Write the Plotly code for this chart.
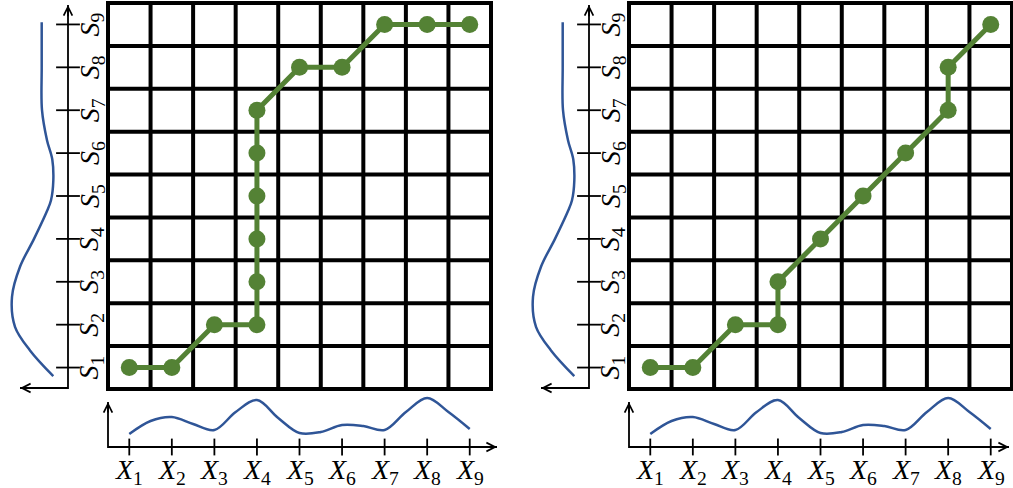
import plotly.graph_objects as go

# ---------------- data ----------------
N = 9
x_index = list(range(1, N + 1))
s_index = list(range(1, N + 1))
x_labels = [f"<i>X</i><sub>{i}</sub>" for i in x_index]
s_labels = [f"<i>S</i><sub>{i}</sub>" for i in s_index]

# warping path, left panel (X index, S index)
path_a_x = [1, 2, 3, 4, 4, 4, 4, 4, 4, 5, 6, 7, 8, 9]
path_a_s = [1, 1, 2, 2, 3, 4, 5, 6, 7, 8, 8, 9, 9, 9]
# warping path, right panel
path_b_x = [1, 2, 3, 4, 4, 5, 6, 7, 8, 8, 9]
path_b_s = [1, 1, 2, 2, 3, 4, 5, 6, 7, 8, 9]

# bottom signal X(t), read at half steps
x_sig_t = [1, 1.5, 2, 2.5, 3, 3.5, 4, 4.5, 5, 5.5, 6, 6.5, 7, 7.5, 8, 8.5, 9]
x_sig_v = [13, 26, 30, 23, 17, 35, 47, 29, 14, 15, 22, 21, 17, 35, 49, 35, 18]

# left signal S(t) (drawn vertically, amplitude grows to the left)
s_sig_t = [0.8, 1.4, 1.95, 2.65, 3.35, 4.0, 4.65, 4.9, 5.35, 5.85, 6.3, 7.0, 8.0, 9.05]
s_sig_v = [14.7, 38, 53, 56, 48, 34, 21, 17, 14.7, 15.7, 21, 26, 26.3, 26.3]

# ---------------- layout constants (pixels) ----------------
W, H = 1013, 488
GRID_L, GRID_R, GRID_T, GRID_B = 108, 491, 3, 389
PANEL_OFFSETS = [0, 521]
LAXIS_X = 68            # left signal axis position
LDOM = (4, 80)
LARROW_TIP = 20
VARROW_TIP = 5
BAXIS_Y = 447           # bottom signal axis position
BDOM_Y = (392, 458)
BDOM_X = (100, 505)
BARROW_UP_TIP = 402
BARROW_RIGHT_TIP = 497
S_LABEL_X = 91
X_LABEL_Y = 471
PAD = 3

GREEN = "#548235"
BLUE = "#2F5597"
ux = (GRID_R - GRID_L) / N
uy = (GRID_B - GRID_T) / N


def fx(p):
    return p / W


def fy(p):
    return 1 - p / H


def xunit(p, a):
    return 0.5 + (p - a) / ux


def yunit(p):
    return 0.5 + (GRID_B - p) / uy


fig = go.Figure()
layout_axes = {}
annotations = []
font_lbl = dict(family="Liberation Serif", size=28, color="black")

for p, ox in enumerate(PANEL_OFFSETS):
    gx, lx, bx = 3 * p + 1, 3 * p + 2, 3 * p + 3
    gy, by = 2 * p + 1, 2 * p + 2
    gxn = "x" if gx == 1 else f"x{gx}"
    gyn = "y" if gy == 1 else f"y{gy}"
    lxn, bxn, byn = f"x{lx}", f"x{bx}", f"y{by}"
    a = GRID_L + ox

    # grid axes
    gL, gR = a - PAD, min(GRID_R + ox + PAD, W)
    layout_axes["xaxis" if gx == 1 else f"xaxis{gx}"] = dict(
        domain=[fx(gL), fx(gR)], range=[xunit(gL, a), xunit(gR, a)], anchor=gyn)
    gT, gB = max(GRID_T - PAD, 0), GRID_B + PAD
    layout_axes["yaxis" if gy == 1 else f"yaxis{gy}"] = dict(
        domain=[fy(gB), fy(gT)], range=[yunit(gB), yunit(gT)], anchor=gxn)
    # left signal x axis (value 0 at axis line, growing leftwards)
    lL, lR = LDOM[0] + ox, LDOM[1] + ox
    layout_axes[f"xaxis{lx}"] = dict(
        domain=[fx(lL), fx(lR)], range=[LAXIS_X + ox - lL, LAXIS_X + ox - lR], anchor=gyn)
    # bottom signal axes
    bL, bR = BDOM_X[0] + ox, min(BDOM_X[1] + ox, W)
    layout_axes[f"xaxis{bx}"] = dict(
        domain=[fx(bL), fx(bR)], range=[xunit(bL, a), xunit(bR, a)], anchor=byn)
    layout_axes[f"yaxis{by}"] = dict(
        domain=[fy(BDOM_Y[1]), fy(BDOM_Y[0])],
        range=[BAXIS_Y - BDOM_Y[1], BAXIS_Y - BDOM_Y[0]], anchor=bxn)

    # grid lines
    e = 2 / ux
    gxs, gys = [], []
    for k in range(N + 1):
        v = 0.5 + k
        gxs += [v, v, None, 0.5 - e, N + 0.5 + e, None]
        gys += [0.5 - e, N + 0.5 + e, None, v, v, None]
    fig.add_trace(go.Scatter(x=gxs, y=gys, mode="lines", xaxis=gxn, yaxis=gyn,
                             line=dict(color="black", width=4), hoverinfo="skip"))

    # warping path
    px_, ps_ = (path_a_x, path_a_s) if p == 0 else (path_b_x, path_b_s)
    fig.add_trace(go.Scatter(x=px_, y=ps_, mode="lines+markers", xaxis=gxn, yaxis=gyn,
                             line=dict(color=GREEN, width=5),
                             marker=dict(color=GREEN, size=17), cliponaxis=False))

    # left signal: axis lines, ticks, curve
    base = yunit(GRID_B - 1)
    vtip = yunit(VARROW_TIP)
    ltip = LAXIS_X - LARROW_TIP
    fig.add_trace(go.Scatter(x=[ltip, 0, 0], y=[base, base, vtip], mode="lines",
                             xaxis=lxn, yaxis=gyn, line=dict(color="black", width=1.8)))
    fig.add_trace(go.Scatter(x=[0] * N, y=s_index, mode="markers", xaxis=lxn, yaxis=gyn,
                             marker=dict(symbol="line-ew", size=17,
                                         line=dict(color="black", width=1.8)),
                             cliponaxis=False))
    fig.add_trace(go.Scatter(x=s_sig_v, y=s_sig_t, mode="lines", xaxis=lxn, yaxis=gyn,
                             line=dict(color=BLUE, width=2.5, shape="spline", smoothing=1)))

    # bottom signal: axis lines, ticks, curve
    utip = BAXIS_Y - BARROW_UP_TIP
    rtip = xunit(min(BARROW_RIGHT_TIP + ox, W - 4), a)
    fig.add_trace(go.Scatter(x=[0.5, 0.5, rtip], y=[utip, 0, 0], mode="lines",
                             xaxis=bxn, yaxis=byn, line=dict(color="black", width=1.8)))
    fig.add_trace(go.Scatter(x=x_index, y=[0] * N, mode="markers", xaxis=bxn, yaxis=byn,
                             marker=dict(symbol="line-ns", size=12,
                                         line=dict(color="black", width=1.8)),
                             cliponaxis=False))
    fig.add_trace(go.Scatter(x=x_sig_t, y=x_sig_v, mode="lines", xaxis=bxn, yaxis=byn,
                             line=dict(color=BLUE, width=2.5, shape="spline", smoothing=1)))

    # arrowheads
    arr = dict(text="", showarrow=True, arrowhead=5, arrowwidth=1.8, arrowsize=0.95,
               arrowcolor="black", standoff=0)
    annotations.append(dict(arr, x=0, y=vtip, ax=0, ay=vtip - 0.3,
                            xref=lxn, yref=gyn, axref=lxn, ayref=gyn))
    annotations.append(dict(arr, x=ltip, y=base, ax=ltip - 12, ay=base,
                            xref=lxn, yref=gyn, axref=lxn, ayref=gyn))
    annotations.append(dict(arr, x=0.5, y=utip, ax=0.5, ay=utip - 12,
                            xref=bxn, yref=byn, axref=bxn, ayref=byn))
    annotations.append(dict(arr, x=rtip, y=0, ax=rtip - 0.3, ay=0,
                            xref=bxn, yref=byn, axref=bxn, ayref=byn))

    # labels
    for i, t in zip(s_index, s_labels):
        annotations.append(dict(text=t, x=fx(S_LABEL_X + ox), y=i, xref="paper", yref=gyn,
                                showarrow=False, textangle=-90, font=font_lbl,
                                xanchor="center", yanchor="middle"))
    for i, t in zip(x_index, x_labels):
        annotations.append(dict(text=t, x=i, y=fy(X_LABEL_Y), xref=bxn, yref="paper",
                                showarrow=False, font=font_lbl,
                                xanchor="center", yanchor="middle"))

for k, v in layout_axes.items():
    v.update(visible=False, fixedrange=True, showgrid=False, zeroline=False)

fig.update_layout(width=W, height=H, autosize=False,
                  margin=dict(l=0, r=0, t=0, b=0),
                  paper_bgcolor="white", plot_bgcolor="white",
                  showlegend=False, annotations=annotations, **layout_axes)

fig.write_html("out.html", config={"displayModeBar": False},
               post_script="document.body.style.margin='0';")
